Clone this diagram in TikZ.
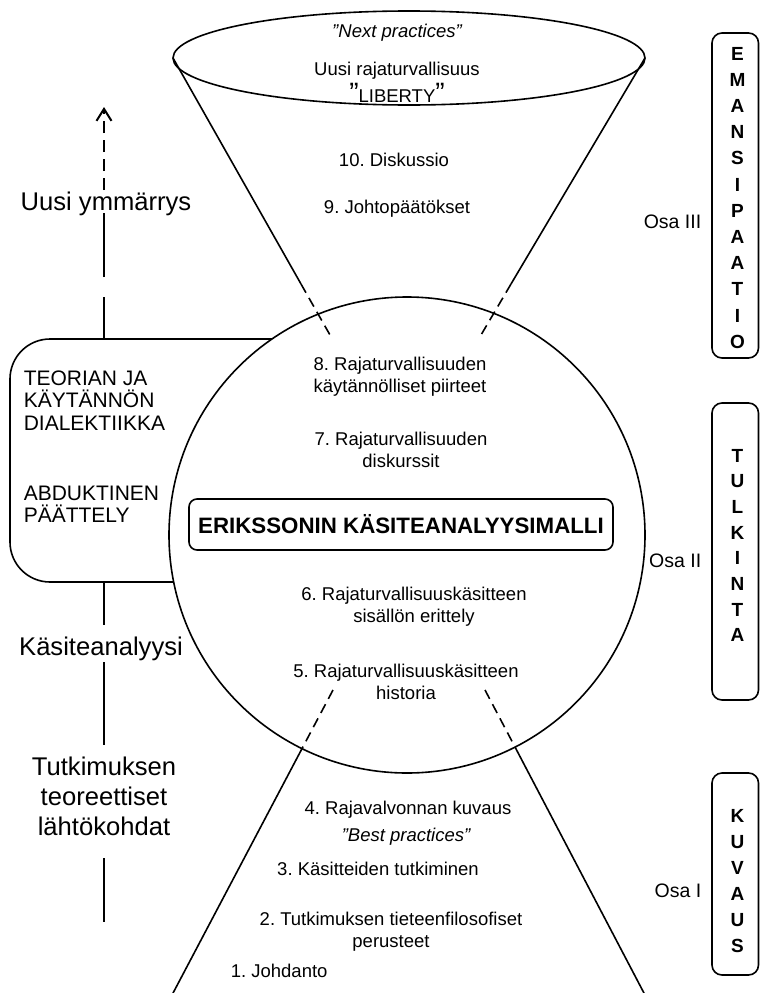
\documentclass[tikz,border=0pt]{standalone}
\usepackage{fontspec}
\setmainfont{Liberation Sans}
\usetikzlibrary{shapes.geometric,arrows.meta}
\frenchspacing
\begin{document}
\begin{tikzpicture}[x=1pt,y=-1pt,line width=1.6pt,
  small/.style={font=\fontsize{18.5}{22.5}\selectfont, align=center, inner sep=0pt, anchor=base},
  side/.style={font=\fontsize{25.6}{30}\selectfont, align=center, inner sep=0pt, anchor=base},
  boxtext/.style={font=\fontsize{21}{22.5}\selectfont, align=left, inner sep=0pt, anchor=base west},
  osa/.style={font=\fontsize{19.5}{22}\selectfont, inner sep=0pt, anchor=base east},
  letter/.style={font=\bfseries\fontsize{19}{19}\selectfont, inner sep=0pt, anchor=base},
  column/.style={draw, rounded corners=10pt},
  gap/.style={dash pattern=on 10pt off 6pt},
  link/.style={line width=2pt}]
\useasboundingbox (0,0) rectangle (760,993);

% rounded frame on the left, partly hidden behind the circle
\draw[rounded corners=40pt] (10,339) rectangle (340,582);

% central circle and upper ellipse
\node[circle, draw, fill=white, minimum size=476pt, inner sep=0pt] (mid) at (407,535) {};
\node[ellipse, draw, minimum width=472pt, minimum height=94pt, inner sep=0pt, outer sep=0pt] (top) at (409,58) {};

% upper cone
\coordinate (tl1) at (301,284);
\coordinate (tl2) at (330,335);
\coordinate (tr1) at (511,284);
\coordinate (tr2) at (481,335);
\draw (top.west) -- (tl1);
\draw[gap] (tl1) -- (tl2);
\draw (top.east) -- (tr1);
\draw[gap] (tr1) -- (tr2);

% lower cone
\coordinate (bl1) at (333,690);
\coordinate (bl2) at (302,748.6);
\coordinate (bl3) at (172,995);
\coordinate (br1) at (485,690);
\coordinate (br2) at (515,747);
\coordinate (br3) at (645,995);
\draw[gap] (bl1) -- (bl2);
\draw (bl2) -- (bl3);
\draw[gap] (br1) -- (br2);
\draw (br2) -- (br3);

% texts in the ellipse and the upper cone (multi-line nodes sit on their last baseline)
\node[small, font=\itshape\fontsize{18.5}{22.5}\selectfont] (np) at (397,37) {”Next practices”};
\node[small] (uusi) at (397,75) {Uusi rajaturvallisuus};
\node[small] (lib) at (397,102) {{\fontsize{28}{28}\selectfont ”}LIBERTY{\fontsize{28}{28}\selectfont ”}};
\node[small] (c10) at (394,166) {10. Diskussio};
\node[small] (c9) at (397,213) {9. Johtopäätökset};

% texts in the circle
\node[small] (c8) at (400,392.5) {8. Rajaturvallisuuden\\käytännölliset piirteet};
\node[small] (c7) at (401,467.5) {7. Rajaturvallisuuden\\diskurssit};
\node[draw, rounded corners=8pt, minimum width=424pt, minimum height=51pt, inner sep=0pt,
      font=\bfseries\fontsize{22.3}{24}\selectfont] (title) at (401,524.5) {ERIKSSONIN KÄSITEANALYYSIMALLI};
\node[small] (c6) at (414,622.5) {6. Rajaturvallisuuskäsitteen\\sisällön erittely};
\node[small] (c5) at (406,699.5) {5. Rajaturvallisuuskäsitteen\\historia};

% texts in the lower cone
\node[small] (c4) at (408,814) {4. Rajavalvonnan kuvaus};
\node[small, font=\itshape\fontsize{18.5}{22.5}\selectfont] (bp) at (406,841.5) {”Best practices”};
\node[small] (c3) at (378,875) {3. Käsitteiden tutkiminen};
\node[small] (c2) at (391,947.5) {2. Tutkimuksen tieteenfilosofiset\\perusteet};
\node[small, anchor=base west] (c1) at (230,977) {1. Johdanto};

% left frame texts
\node[boxtext] (dial) at (23,430) {TEORIAN JA\\KÄYTÄNNÖN\\DIALEKTIIKKA};
\node[boxtext] (abd) at (23,522.5) {ABDUKTINEN\\PÄÄTTELY};

% left axis with its labels
\node[side] (ymm) at (106,210) {Uusi ymmärrys};
\node[side] (kas) at (101,655) {Käsiteanalyysi};
\node[side] (tut) at (104,835) {Tutkimuksen\\teoreettiset\\lähtökohdat};
\coordinate (a0) at (104,339);
\coordinate (a1) at (104,213);
\coordinate (a2) at (104,190);
\coordinate (a3) at (104,107);
\coordinate (b0) at (104,582);
\coordinate (b1) at (104,625);
\coordinate (b2) at (104,662);
\coordinate (b3) at (104,745);
\coordinate (b4) at (104,858);
\coordinate (b5) at (104,922);
\draw[link, dash pattern=on 42pt off 20pt on 64pt off 20pt] (a0) -- (a1);
\draw[link, dash pattern=on 12pt off 7pt, -{Straight Barb[length=12pt,width=15pt]}] (a2) -- (a3);
\draw[link] (b0) -- (b1);
\draw[link] (b2) -- (b3);
\draw[link] (b4) -- (b5);

% part labels
\node[osa] (o3) at (702,228) {Osa III};
\node[osa] (o2) at (702,567) {Osa II};
\node[osa] (o1) at (702,897) {Osa I};

% lettered columns on the right
\draw[column] (712,33) rectangle (758.5,358);
\draw[column] (712,403) rectangle (758.5,700);
\draw[column] (712,773) rectangle (758.5,975);
\foreach \ch [count=\i from 0] in {E,M,A,N,S,I,P,A,A,T,I,O}
  \node[letter] (em\i) at (737.5,60+26.2*\i) {\ch};
\foreach \ch [count=\i from 0] in {T,U,L,K,I,N,T,A}
  \node[letter] (tu\i) at (737.5,462+25.7*\i) {\ch};
\foreach \ch [count=\i from 0] in {K,U,V,A,U,S}
  \node[letter] (ku\i) at (737.5,822+26*\i) {\ch};
\end{tikzpicture}
\end{document}
